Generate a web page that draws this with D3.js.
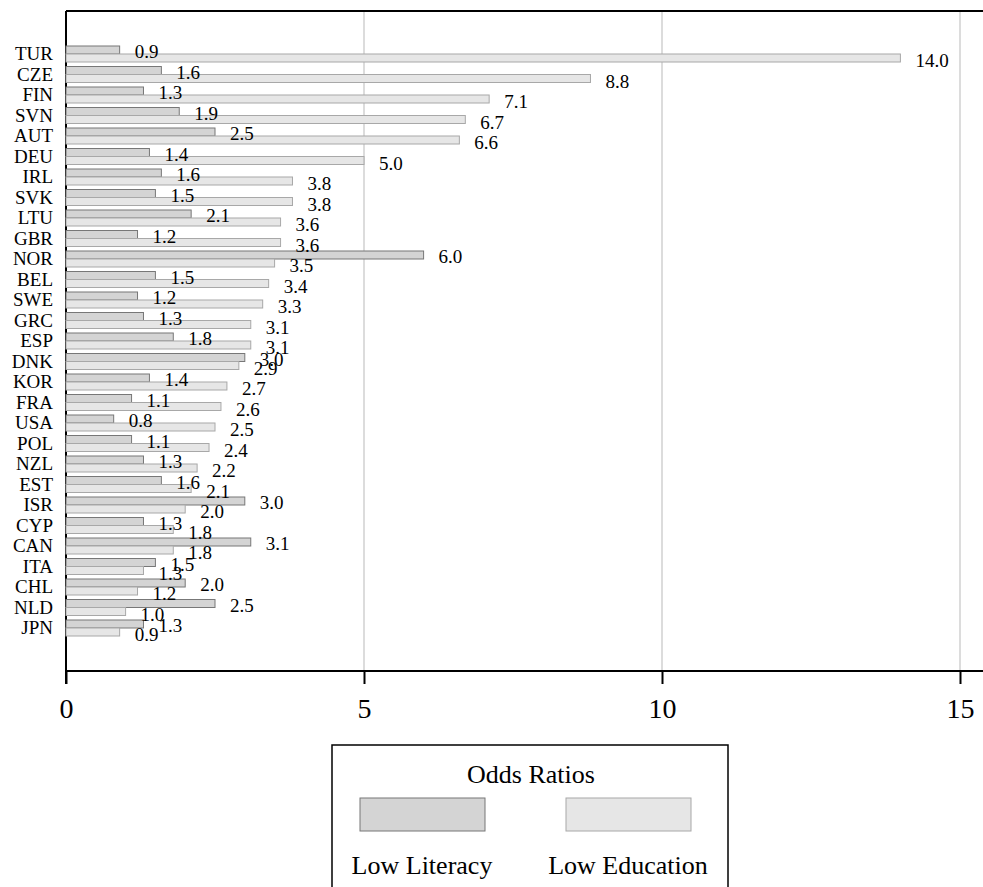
<!DOCTYPE html>
<html lang="en">
<head>
<meta charset="UTF-8">
<title>Odds Ratios</title>
<script src="https://d3js.org/d3.v7.min.js"></script>
<style>
  body { margin: 0; background: #fff; }
  svg { display: block; }
  svg text { font-family: "Times New Roman", "Liberation Serif", Times, serif; fill: #000; }
  .grid line { stroke: #dcdcdc; stroke-width: 2; }
  .bar-lit { fill: #d4d4d4; stroke: #777; stroke-width: 1; }
  .bar-edu { fill: #e6e6e6; stroke: #a8a8a8; stroke-width: 1; }
</style>
</head>
<body>
<svg id="chart" width="983" height="887"></svg>
<script>
// data
const countries = ["TUR","CZE","FIN","SVN","AUT","DEU","IRL","SVK","LTU","GBR","NOR","BEL","SWE","GRC","ESP",
                   "DNK","KOR","FRA","USA","POL","NZL","EST","ISR","CYP","CAN","ITA","CHL","NLD","JPN"];
const lowLiteracy  = [0.9,1.6,1.3,1.9,2.5,1.4,1.6,1.5,2.1,1.2,6.0,1.5,1.2,1.3,1.8,
                      3.0,1.4,1.1,0.8,1.1,1.3,1.6,3.0,1.3,3.1,1.5,2.0,2.5,1.3];
const lowEducation = [14.0,8.8,7.1,6.7,6.6,5.0,3.8,3.8,3.6,3.6,3.5,3.4,3.3,3.1,3.1,
                      2.9,2.7,2.6,2.5,2.4,2.2,2.1,2.0,1.8,1.8,1.3,1.2,1.0,0.9];
const xTicks = [0, 5, 10, 15];
const seriesNames = ["Low Literacy", "Low Education"];
const legendTitle = "Odds Ratios";

const svg = d3.select("#chart");
const plotLeft = 66, plotTop = 11, plotBottom = 671, plotRight = 983;

const x = d3.scaleLinear().domain([0, 15]).range([plotLeft, 960]);
const y = d3.scaleBand().domain(countries).range([46, 46 + 28 * 20.5 + 16]).paddingInner(4.5 / 20.5).paddingOuter(0);
const bh = y.bandwidth() / 2;

// grid lines
svg.append("g").attr("class", "grid")
  .selectAll("line").data(xTicks.filter(d => d > 0)).join("line")
  .attr("x1", d => x(d)).attr("x2", d => x(d))
  .attr("y1", plotTop).attr("y2", plotBottom);

// frame: top border and left axis
svg.append("line").attr("x1", plotLeft).attr("x2", plotRight).attr("y1", plotTop).attr("y2", plotTop)
  .attr("stroke", "#000").attr("stroke-width", 2);
svg.append("line").attr("x1", plotLeft).attr("x2", plotLeft).attr("y1", plotTop).attr("y2", plotBottom + 13)
  .attr("stroke", "#000").attr("stroke-width", 2);

// x axis
const xAxis = svg.append("g").attr("transform", `translate(0,${plotBottom})`)
  .call(d3.axisBottom(x).tickValues(xTicks).tickSize(13).tickPadding(14).tickFormat(d3.format("d")));
xAxis.attr("font-family", null).attr("font-size", null);
xAxis.select(".domain").remove();
xAxis.append("line").attr("x1", plotLeft).attr("x2", plotRight).attr("stroke", "#000").attr("stroke-width", 2);
xAxis.selectAll(".tick line").attr("stroke", "#000").attr("stroke-width", 2);
xAxis.selectAll(".tick text").style("font-size", "28px");

// bars
const rows = countries.map((c, i) => ({ c, lit: lowLiteracy[i], edu: lowEducation[i] }));
const g = svg.append("g");
g.selectAll(".bar-lit").data(rows).join("rect").attr("class", "bar-lit")
  .attr("x", x(0)).attr("y", d => y(d.c))
  .attr("width", d => x(d.lit) - x(0)).attr("height", bh);
g.selectAll(".bar-edu").data(rows).join("rect").attr("class", "bar-edu")
  .attr("x", x(0)).attr("y", d => y(d.c) + bh)
  .attr("width", d => x(d.edu) - x(0)).attr("height", bh);

// value labels
g.selectAll(".lab-lit").data(rows).join("text")
  .attr("x", d => x(d.lit) + 15).attr("y", d => y(d.c) + bh / 2 + 4)
  .attr("dominant-baseline", "middle").style("font-size", "19px")
  .text(d => d.lit.toFixed(1));
g.selectAll(".lab-edu").data(rows).join("text")
  .attr("x", d => x(d.edu) + 15).attr("y", d => y(d.c) + bh * 1.5 + 5)
  .attr("dominant-baseline", "middle").style("font-size", "19px")
  .text(d => d.edu.toFixed(1));

// category labels
svg.append("g").selectAll("text").data(countries).join("text")
  .attr("x", 53).attr("y", d => y(d) + bh + 2)
  .attr("text-anchor", "end").attr("dominant-baseline", "middle")
  .style("font-size", "19px").text(d => d);

// legend
const lg = svg.append("g");
lg.append("rect").attr("x", 332).attr("y", 745).attr("width", 396).attr("height", 160)
  .attr("fill", "none").attr("stroke", "#000").attr("stroke-width", 1.5);
lg.append("text").attr("x", 531).attr("y", 783).attr("text-anchor", "middle")
  .style("font-size", "26px").text(legendTitle);
const legX = d3.scalePoint().domain(seriesNames).range([422, 628]);
lg.selectAll(".sw").data(seriesNames).join("rect")
  .attr("class", (d, i) => i === 0 ? "bar-lit" : "bar-edu")
  .attr("x", d => legX(d) - 62).attr("y", 798).attr("width", 125).attr("height", 33);
lg.selectAll(".lt").data(seriesNames).join("text")
  .attr("x", d => legX(d)).attr("y", 874).attr("text-anchor", "middle")
  .style("font-size", "26px").text(d => d);
</script>
</body>
</html>
